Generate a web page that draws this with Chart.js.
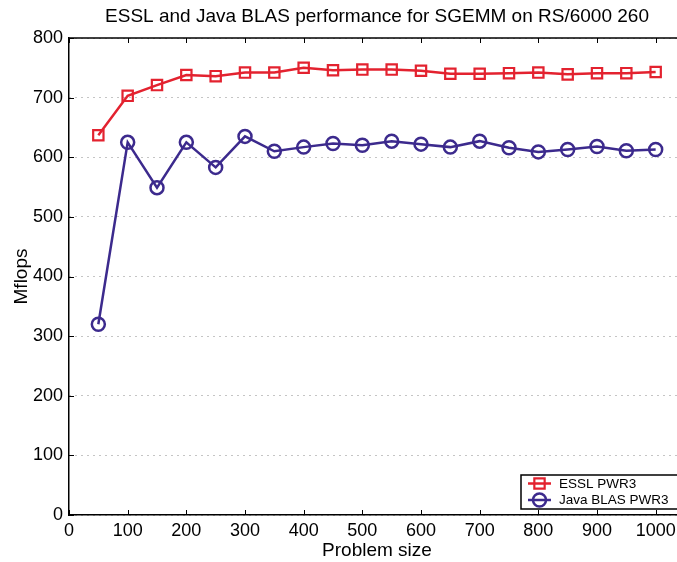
<!DOCTYPE html>
<html lang="en">
  <head>
    <meta charset="UTF-8">
    <title>ESSL and Java BLAS performance</title>
    <script src="https://cdn.jsdelivr.net/npm/chart.js"></script>
    <style>
      html, body { margin: 0; padding: 0; background: #fff; overflow: hidden; }
      #wrap { width: 677px; height: 562px; overflow: hidden; }
    </style>
  </head>
  <body>
    <!-- canvas is a bit wider than the window: the axes box runs past the right edge -->
    <div id="wrap"><canvas id="Chart" width="685" height="562"></canvas></div>
    <script>
      // problem sizes and measured Mflops
      var sizes = [50, 100, 150, 200, 250, 300, 350, 400, 450, 500, 550, 600, 650, 700, 750, 800, 850, 900, 950, 1000];
      var essl = [637, 703, 721, 738, 736, 742, 742, 750, 746, 747, 747, 745, 740, 740, 741, 742, 739, 741, 741, 743];
      var javaBlas = [320, 625, 549, 625, 583, 635, 610, 617, 623, 620, 627, 622, 617, 627, 616, 609, 613, 618, 611, 613];
      var xTicks = [0, 100, 200, 300, 400, 500, 600, 700, 800, 900, 1000];
      var yTicks = [0, 100, 200, 300, 400, 500, 600, 700, 800];
      var seriesNames = ["ESSL PWR3", "Java BLAS PWR3"];

      var red = "#e3222f";
      var blue = "#3c2a8d";
      var font = "'Liberation Sans', Arial, Helvetica, sans-serif";

      function pts(ys) {
        return sizes.map(function (s, i) { return { x: s, y: ys[i] }; });
      }

      // matlab style box: top line + inward ticks, and the legend box
      var matlabAxes = {
        id: "matlabAxes",
        afterDraw: function (chart) {
          var ctx = chart.ctx;
          var a = chart.chartArea;
          var xs = chart.scales.x, ys = chart.scales.y;
          ctx.save();
          ctx.strokeStyle = "#000";
          ctx.lineWidth = 1.5;
          ctx.beginPath();
          ctx.moveTo(a.left, a.top);
          ctx.lineTo(a.right, a.top);
          ctx.stroke();
          ctx.lineWidth = 1;
          ctx.beginPath();
          xTicks.forEach(function (t) {
            var px = Math.round(xs.getPixelForValue(t)) + 0.5;
            ctx.moveTo(px, a.bottom); ctx.lineTo(px, a.bottom - 5);
            ctx.moveTo(px, a.top); ctx.lineTo(px, a.top + 5);
          });
          yTicks.forEach(function (t) {
            var py = Math.round(ys.getPixelForValue(t)) + 0.5;
            ctx.moveTo(a.left, py); ctx.lineTo(a.left + 5, py);
          });
          ctx.stroke();

          // legend
          var bx = 521, by = 475, bw = 175, bh = 34;
          ctx.fillStyle = "#fff";
          ctx.fillRect(bx, by, bw, bh);
          ctx.lineWidth = 1.5;
          ctx.strokeStyle = "#000";
          ctx.strokeRect(bx, by, bw, bh);
          ctx.font = "13.5px " + font;
          ctx.textBaseline = "middle";
          chart.data.datasets.forEach(function (ds, i) {
            var cy = 483.5 + i * 16.5;
            ctx.strokeStyle = ds.borderColor;
            ctx.lineWidth = ds.borderWidth;
            ctx.beginPath();
            ctx.moveTo(528, cy); ctx.lineTo(551, cy);
            ctx.stroke();
            ctx.fillStyle = "rgba(0,0,0,0)";
            ctx.lineWidth = ds.pointBorderWidth;
            Chart.helpers.drawPoint(ctx, {
              pointStyle: ds.pointStyle, radius: ds.pointRadius,
              borderWidth: ds.pointBorderWidth, rotation: 0
            }, 539.5, cy);
            ctx.fillStyle = "#000";
            ctx.fillText(ds.label, 559, cy + 0.5);
          });
          ctx.restore();
        }
      };

      new Chart("Chart", {
        type: "line",
        data: {
          datasets: [{
            label: seriesNames[0],
            data: pts(essl),
            borderColor: red,
            backgroundColor: "rgba(0,0,0,0)",
            borderWidth: 2.5,
            pointStyle: "rect",
            pointRadius: 7.3,
            pointBorderWidth: 2.2,
            pointBorderColor: red,
            pointBackgroundColor: "rgba(0,0,0,0)"
          }, {
            label: seriesNames[1],
            data: pts(javaBlas),
            borderColor: blue,
            backgroundColor: "rgba(0,0,0,0)",
            borderWidth: 2.5,
            pointStyle: "circle",
            pointRadius: 6.5,
            pointBorderWidth: 2.5,
            pointBorderColor: blue,
            pointBackgroundColor: "rgba(0,0,0,0)"
          }]
        },
        options: {
          responsive: false,
          animation: false,
          layout: { autoPadding: false, padding: 0 },
          plugins: {
            legend: { display: false },
            tooltip: { enabled: false },
            title: {
              display: true,
              fullSize: false,
              text: "ESSL and Java BLAS performance for SGEMM on RS/6000 260",
              color: "#000",
              font: { family: font, size: 19, weight: "normal" },
              padding: { top: 5, bottom: 10.2 }
            }
          },
          scales: {
            x: {
              type: "linear",
              min: 0,
              max: 1050,
              afterBuildTicks: function (scale) {
                scale.ticks = xTicks.map(function (v) { return { value: v }; });
              },
              afterFit: function (scale) {
                scale.height = 47;
                scale.paddingLeft = 0;
                scale.paddingRight = 0;
              },
              grid: { display: false, drawTicks: false, tickLength: 0 },
              border: { display: true, color: "#000", width: 1.5 },
              ticks: {
                color: "#000",
                padding: 5,
                maxRotation: 0,
                autoSkip: false,
                font: { family: font, size: 18 },
                callback: function (v) { return String(v); }
              },
              title: {
                display: true,
                text: "Problem size",
                color: "#000",
                font: { family: font, size: 19 },
                padding: { top: 0, bottom: 0 }
              }
            },
            y: {
              min: 0,
              max: 800,
              afterBuildTicks: function (scale) {
                scale.ticks = yTicks.map(function (v) { return { value: v }; });
              },
              afterFit: function (scale) {
                scale.width = 69;
                scale.paddingTop = 0;
                scale.paddingBottom = 0;
              },
              grid: {
                color: "#8a8a8a",
                lineWidth: 1,
                drawTicks: false,
                tickLength: 0
              },
              border: { display: true, color: "#000", width: 1.5, dash: [1, 5] },
              ticks: {
                color: "#000",
                padding: 6,
                font: { family: font, size: 18 }
              },
              title: {
                display: true,
                text: "Mflops",
                color: "#000",
                font: { family: font, size: 19 },
                padding: { top: 10, bottom: 0 }
              }
            }
          }
        },
        plugins: [matlabAxes]
      });
    </script>
  </body>
</html>
